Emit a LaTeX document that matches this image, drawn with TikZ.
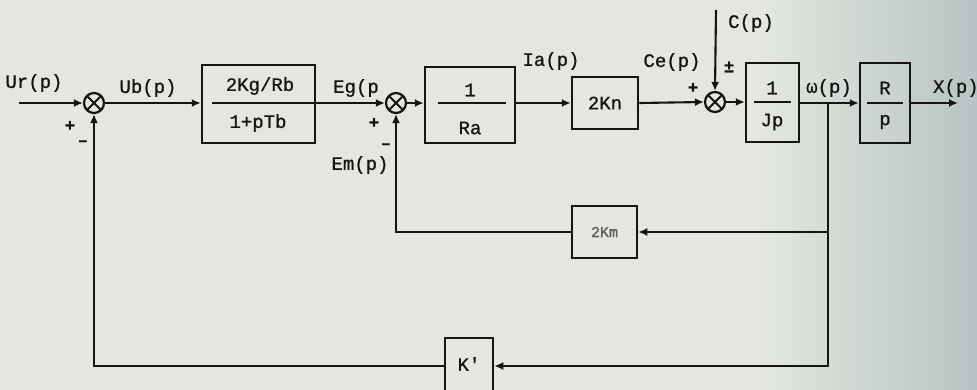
\documentclass[tikz,border=0pt]{standalone}
\usepackage{fontspec}
\setmainfont[FakeBold=0.8]{Liberation Mono}
\newfontfamily\plainmono[FakeBold=0.8]{Liberation Mono}
\usetikzlibrary{arrows.meta}
\definecolor{bgA}{HTML}{E3E7DF}
\definecolor{bgB}{HTML}{B7C4C3}
\definecolor{ink}{HTML}{141414}
\begin{document}
\begin{tikzpicture}[x=1pt,y=-1pt,
  line width=2.1pt, draw=ink,
  arr/.style={-{Latex[length=9pt,width=8pt]}},
  blk/.style={draw=ink, line width=2.5pt, rectangle, inner sep=0pt},
  sumj/.style={circle, draw=ink, line width=2.2pt, minimum size=20pt, inner sep=0pt,
    path picture={\draw[line width=2pt] (path picture bounding box.north west)--(path picture bounding box.south east)
      (path picture bounding box.north east)--(path picture bounding box.south west);}},
  lab/.style={font=\fontsize{19}{21}\selectfont, text=ink, inner sep=0pt},
  btx/.style={font=\fontsize{19}{21}\selectfont, text=ink, inner sep=0pt},
  sgn/.style={font=\fontsize{17}{18}\selectfont\bfseries, text=ink, inner sep=0pt}]
\useasboundingbox (0,0) rectangle (977,390);
\fill[bgA] (0,0) rectangle (977,390);
\shade[left color=bgA, right color=bgB, draw=none] (760,0) rectangle (977,390);

% blocks and junctions
\node[sumj] (s1) at (94,103) {};
\node[blk, minimum width=113pt, minimum height=78pt] (b1) at (258.5,104) {};
\node[sumj] (s2) at (396,103) {};
\node[blk, minimum width=90pt, minimum height=76pt] (b2) at (470,105) {};
\node[blk, minimum width=66pt, minimum height=52pt] (b3) at (605,103) {};
\node[sumj] (s3) at (715,102) {};
\node[blk, minimum width=53pt, minimum height=79pt] (b4) at (772.5,102.5) {};
\node[blk, minimum width=50pt, minimum height=80pt] (b5) at (885,103) {};
\node[blk, minimum width=65pt, minimum height=52pt] (b6) at (604.5,232) {};
\node[blk, minimum width=48pt, minimum height=56pt] (b7) at (469,366) {};

% block texts
\node[btx] (b1n) at (260,86) {2Kg/Rb};
\node[btx] (b1d) at (258,123) {1+pTb};
\node[btx] (b2n) at (470,90) {1};
\node[btx] (b2d) at (470,128) {Ra};
\node[btx] (b3t) at (605,103) {2Kn};
\node[btx] (b4n) at (772,88) {1};
\node[btx] (b4d) at (772,122) {Jp};
\node[btx] (b5n) at (885,88) {R};
\node[btx] (b5d) at (885,122) {p};
\node[btx, font=\fontsize{15}{16}\selectfont, text=ink!70] (b6t) at (604.5,232) {2Km};
\node[btx, font=\plainmono\fontsize{19}{21}\selectfont] (b7t) at (469,364) {K'};

% fraction bars
\draw ([xshift=11pt]b1.west |- s2) -- (b1.east |- s2);
\draw ([xshift=14pt]b2.west |- s2) -- ([xshift=-10pt]b2.east |- s2);
\draw ([xshift=9pt]b4.west |- s3) -- ([xshift=-9pt]b4.east |- s3);
\draw ([xshift=8pt]b5.west |- s2) -- ([xshift=-8pt]b5.east |- s2);

% coordinates
\coordinate (in) at (19,103);
\coordinate (out) at (958,103);
\coordinate (cin) at (716,10);
\coordinate (br) at (828,103);

% forward path
\draw[arr] (in) -- (s1.west);
\draw[arr] (s1.east) -- (b1.west |- s1);
\draw[arr] (b1.east |- s2) -- (s2.west);
\draw[arr] (s2.east) -- (b2.west |- s2);
\draw[arr] (b2.east |- b3) -- (b3.west);
\draw[arr] (b3.east) -- (s3.west);
\draw[arr] (cin) -- (s3.north);
\draw[arr] (s3.east) -- (b4.west |- s3);
\draw[arr] (b4.east |- b5) -- (b5.west);
\draw[arr] (b5.east) -- (out);

% feedback paths
\draw[arr] (br) |- (b6.east);
\draw[arr] (b6.west) -| (s2.south);
\draw[arr] (br) |- (b7.east);
\draw[arr] (b7.west) -| (s1.south);

% signal labels
\node[lab] (lur) at (34,83) {Ur(p)};
\node[lab] (lub) at (148,88) {Ub(p)};
\node[lab] (leg) at (356,88) {Eg(p};
\node[lab] (lem) at (360,165) {Em(p)};
\node[lab] (lia) at (551,61) {Ia(p)};
\node[lab] (lce) at (672,62) {Ce(p)};
\node[lab] (lc) at (751,23) {C(p)};
\node[lab] (lw) at (829,88) {ω(p)};
\node[lab, anchor=west] (lx) at (932,88) {X(p)};

% signs
\node[sgn] (p1) at (70,126) {+};
\node[sgn] (m1) at (83,143) {\textendash};
\node[sgn] (p2) at (374,123) {+};
\node[sgn] (m2) at (386,146) {\textendash};
\node[sgn] (p3) at (693,88) {+};
\node[sgn] (pm3) at (729,67) {±};
\end{tikzpicture}
\end{document}
